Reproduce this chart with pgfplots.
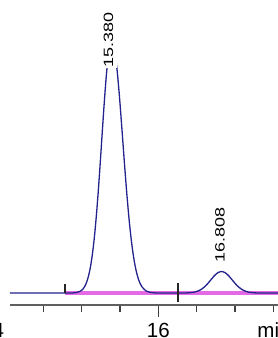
\documentclass[border=0pt]{standalone}
\usepackage{pgfplots}
\pgfplotsset{compat=1.18}
\usepackage{graphicx}
\usepackage{fontspec}
\setmainfont{Liberation Sans}
\definecolor{trace}{RGB}{36,34,140}
\definecolor{basepink}{RGB}{228,105,228}
\definecolor{axgray}{RGB}{95,95,95}
\begin{document}
\begin{tikzpicture}
\useasboundingbox (0,0) rectangle (278pt,338pt);
\begin{axis}[
  at={(10pt,33pt)}, anchor=south west,
  scale only axis, width=268pt, height=305pt,
  xmin=14.0665, xmax=17.5606, ymin=-12, ymax=293,
  axis x line=bottom, axis y line=none,
  axis line style={-, axgray, line width=1.8pt},
  xtick={16}, xticklabels={16},
  minor xtick={14.5,15,15.5,16.5,17,17.5},
  tick align=outside,
  major tick length=12pt, minor tick length=6.5pt,
  every tick/.style={black!75, line width=1.3pt},
  xticklabel style={anchor=base, yshift=-20pt, font=\fontsize{20.5}{21}\selectfont, inner sep=0pt},
  clip=false,
]
% integration baseline
\addplot[basepink, line width=3.2pt] coordinates {(14.784,0) (17.5606,0)};
% chromatogram trace
\addplot[trace, line width=1.3pt, smooth, tension=0.4] coordinates {
(14.0665,0) (14.5,0) (14.85,0) (14.892,0.15) (14.942,0.6) (14.992,2.2) (15.017,3.9) (15.042,6.7)
(15.067,11.0) (15.092,17.5) (15.117,26.8) (15.142,39.5) (15.167,56.1) (15.192,76.9)
(15.217,101.4) (15.242,129.0) (15.267,158.1) (15.292,186.7) (15.317,212.5) (15.342,233.1)
(15.367,246.4) (15.392,251) (15.417,247.3) (15.442,236.5) (15.467,219.6) (15.492,197.9)
(15.517,173.1) (15.542,147.0) (15.567,121.2) (15.592,97.0) (15.617,75.3) (15.642,56.8)
(15.667,41.6) (15.692,29.5) (15.717,20.4) (15.742,13.6) (15.767,8.9) (15.792,5.6)
(15.842,2.0) (15.892,0.7) (15.942,0.2) (16.0,0) (16.2,0) (16.374,0.1) (16.424,0.4) (16.474,0.9)
(16.524,2.2) (16.549,3.1) (16.574,4.4) (16.599,5.9) (16.624,7.7) (16.649,9.8) (16.674,12.1)
(16.699,14.4) (16.724,16.7) (16.749,18.6) (16.774,20.2) (16.799,21.1) (16.824,21.5)
(16.849,21.1) (16.874,20.2) (16.899,18.6) (16.924,16.7) (16.949,14.4) (16.974,12.1)
(16.999,9.8) (17.024,7.7) (17.049,5.9) (17.074,4.4) (17.099,3.1) (17.124,2.2) (17.174,0.9)
(17.224,0.4) (17.274,0.1) (17.35,0) (17.5606,0)
};
% integration markers
\addplot[black!85, line width=1.2pt] coordinates {(14.784,0) (14.784,8.5)};
\addplot[black!85, line width=1.2pt] coordinates {(16.257,-9) (16.257,10)};
% peak labels
\node[fill=white, inner xsep=0pt, inner ysep=4pt, rotate=90, anchor=west,
      font=\fontsize{13.5}{14}\selectfont] at (axis cs:15.352,225) {\scalebox{1.33}[1]{15.380}};
\node[fill=white, inner xsep=0pt, inner ysep=1pt, rotate=90, anchor=west,
      font=\fontsize{13.5}{14}\selectfont] at (axis cs:16.804,30) {\scalebox{1.33}[1]{16.808}};
% partial labels at the crop edges
\node[anchor=base, inner sep=0pt, font=\fontsize{20.5}{21}\selectfont] at (axis cs:13.84,-44) {14};
\node[anchor=base west, inner sep=0pt, font=\fontsize{20.5}{21}\selectfont] at (axis cs:17.29,-44) {min};
\end{axis}
\end{tikzpicture}
\end{document}
